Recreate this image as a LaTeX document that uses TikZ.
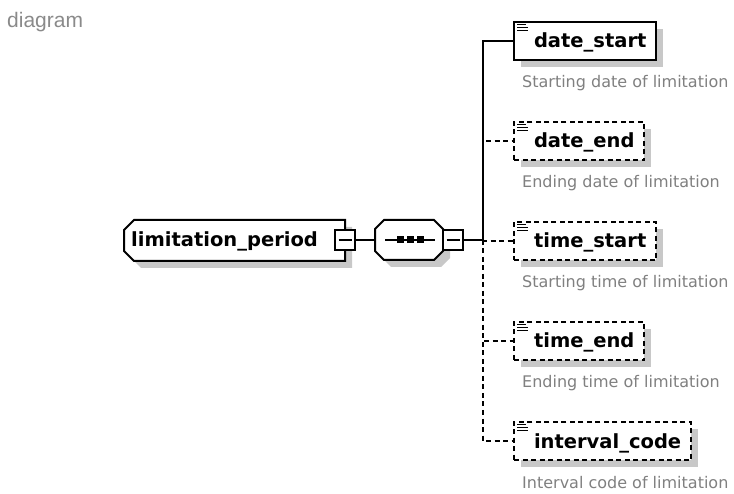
\documentclass[tikz,border=0pt]{standalone}
\usepackage{fontspec}
\setmainfont{DejaVu Sans}
\newfontfamily\labelfont{Liberation Sans}
\usetikzlibrary{shadows}
\definecolor{descgray}{HTML}{808080}
\definecolor{shadowgray}{HTML}{C8C8C8}
\definecolor{labelgray}{HTML}{8A8A8A}
\tikzset{
  conn/.style={line width=2pt},
  optconn/.style={line width=2pt, dash pattern=on 5pt off 3.5pt},
  childbox/.style={anchor=west, draw, fill=white, line width=2pt,
    minimum height=38pt, inner xsep=10pt, inner ysep=0pt,
    text height=14pt, text depth=0pt,
    font=\bfseries\fontsize{19.5pt}{22pt}\selectfont,
    general shadow={fill=shadowgray, shadow xshift=7pt, shadow yshift=-7pt}},
  optbox/.style={childbox, dash pattern=on 5pt off 3.5pt},
  sqbox/.style={draw, fill=white, line width=2pt, minimum size=20pt, inner sep=0pt},
  elemtext/.style={inner sep=0pt, font=\bfseries\fontsize{19.5pt}{22pt}\selectfont},
  desc/.style={anchor=base west, inner sep=0pt, text=descgray,
    font=\fontsize{16pt}{18pt}\selectfont},
  iconline/.style={line width=1.4pt},
  shapeline/.style={line width=2pt},
}
\newcommand{\elemicon}[1]{%
  \draw[iconline] ([shift={(4,3.5)}]#1.north west) -- ++(9,0);
  \draw[iconline] ([shift={(4,6.5)}]#1.north west) -- ++(11,0);
  \draw[iconline] ([shift={(4,9.5)}]#1.north west) -- ++(11,0);
}
\begin{document}
\begin{tikzpicture}[x=1pt,y=-1pt]
\useasboundingbox (0,0) rectangle (734,494);

% label
\node[anchor=base west, inner sep=0pt, text=labelgray,
  font=\labelfont\fontsize{21pt}{24pt}\selectfont] (lbl) at (7,28) {diagram};

% main element shape
\fill[shadowgray, shift={(7,7)}] (134,220) -- (345,220) -- (345,261) -- (134,261) -- (124,251) -- (124,230) -- cycle;
\draw[shapeline, fill=white] (134,220) -- (345,220) -- (345,261) -- (134,261) -- (124,251) -- (124,230) -- cycle;
\node[elemtext, anchor=base west] (lp) at (131,247) {limitation\_period};
\node[sqbox] (lpm) at (345,240) {};
\draw[conn] ([xshift=-6.5pt]lpm.center) -- ([xshift=6.5pt]lpm.center);

% sequence compositor
\fill[shadowgray, shift={(7,7)}] (384,220) -- (434,220) -- (443,229) -- (443,251) -- (434,260) -- (384,260) -- (375,251) -- (375,229) -- cycle;
\draw[shapeline, fill=white] (384,220) -- (434,220) -- (443,229) -- (443,251) -- (434,260) -- (384,260) -- (375,251) -- (375,229) -- cycle;
\coordinate (seqw) at (375,240);
\draw[line width=1.5pt] (385,240) -- (435,240);
\foreach \dx in {400,410,420} \fill (\dx-3.5,236.5) rectangle (\dx+3.5,243.5);
\node[sqbox] (seqm) at (453,240) {};
\draw[conn] ([xshift=-6.5pt]seqm.center) -- ([xshift=6.5pt]seqm.center);

\draw[conn] (lpm.east) -- (seqw);

% children
\node[childbox] (c1) at (513,41) {\hspace*{10pt}date\_start};
\node[optbox] (c2) at (513,141) {\hspace*{10pt}date\_end};
\node[optbox] (c3) at (513,241) {\hspace*{10pt}time\_start};
\node[optbox] (c4) at (513,341) {\hspace*{10pt}time\_end};
\node[optbox] (c5) at (513,441) {\hspace*{10pt}interval\_code};
\elemicon{c1}
\elemicon{c2}
\elemicon{c3}
\elemicon{c4}
\elemicon{c5}

\node[desc] (d1) at (522,88) {Starting date of limitation};
\node[desc] (d2) at (522,188) {Ending date of limitation};
\node[desc] (d3) at (522,288) {Starting time of limitation};
\node[desc] (d4) at (522,388) {Ending time of limitation};
\node[desc] (d5) at (522,488) {Interval code of limitation};

% connectors
\coordinate (j) at (483,240);
\draw[conn] (seqm.east) -- (j);
\draw[optconn] (j) |- (c2.west);
\draw[optconn] (j) |- (c3.west);
\draw[optconn] (j) |- (c4.west);
\draw[optconn] (j) |- (c5.west);
\draw[conn] (j) |- (c1.west);
\end{tikzpicture}
\end{document}
